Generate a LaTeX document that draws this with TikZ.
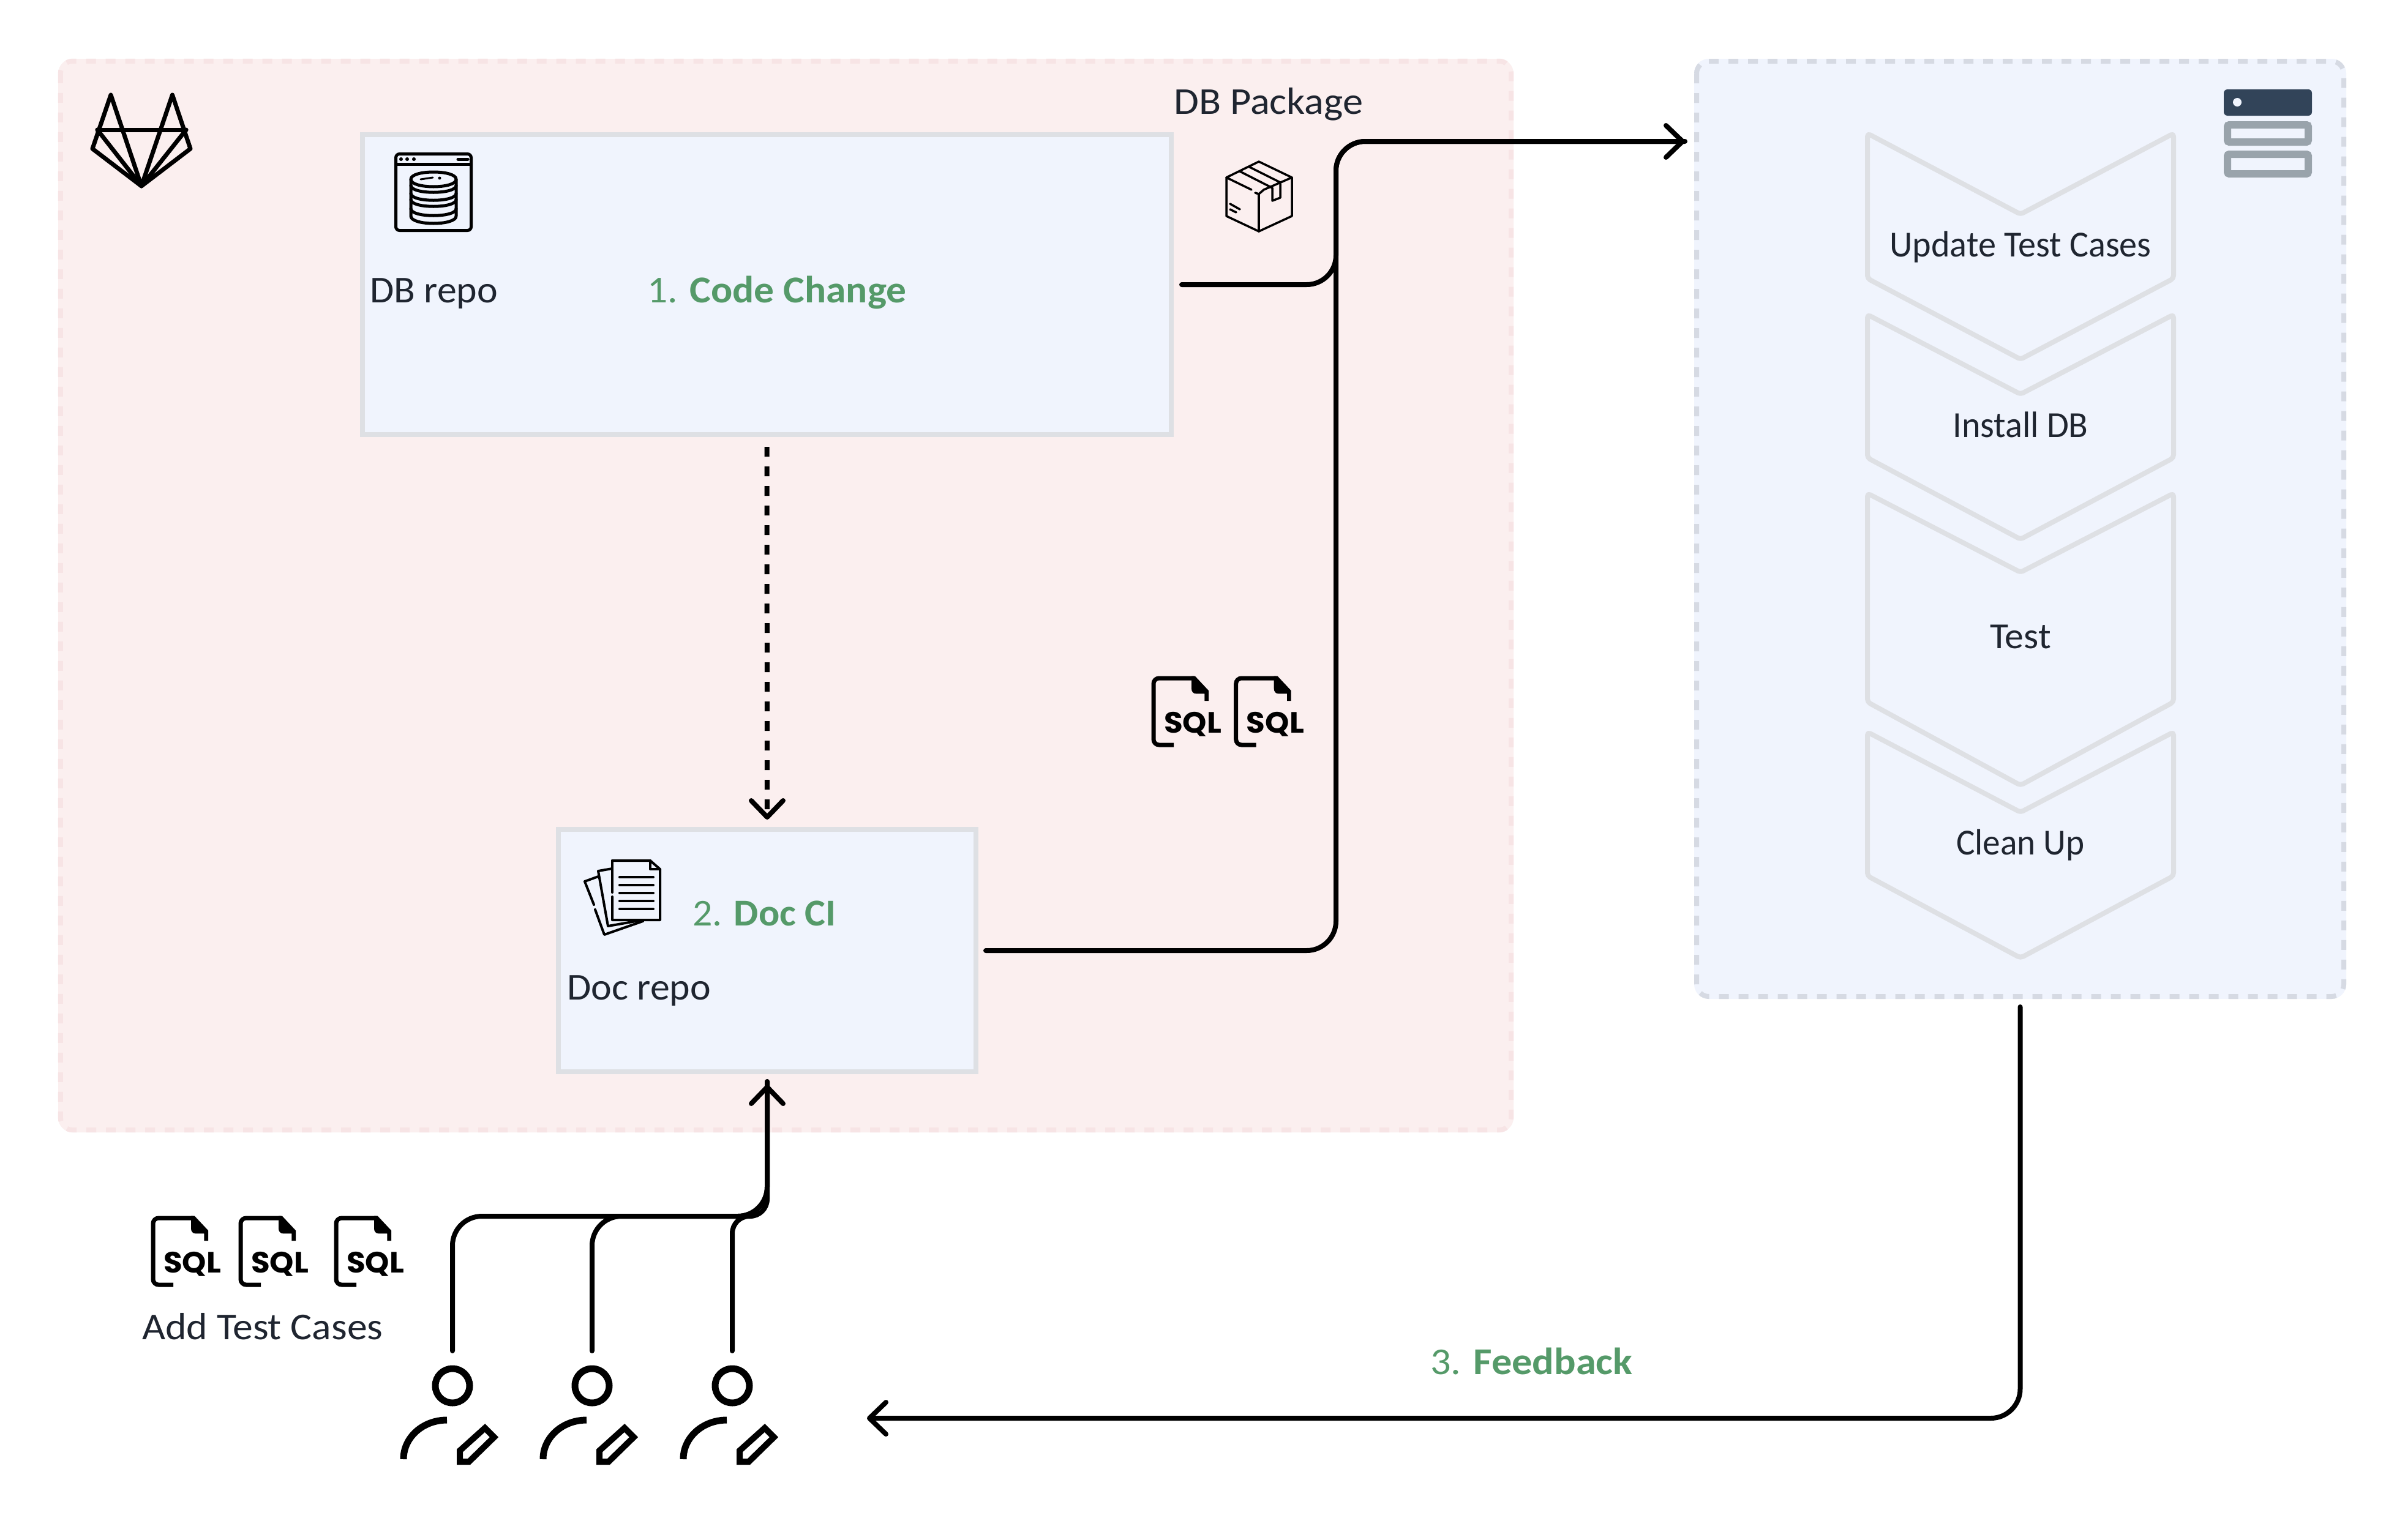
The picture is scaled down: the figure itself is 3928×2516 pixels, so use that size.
\documentclass[tikz,border=0pt]{standalone}
\usepackage{fontspec}
\usepackage{graphicx}
\setmainfont{Carlito}
\newfontfamily\sqlfont{Poppins}
\usetikzlibrary{arrows.meta,calc}
\definecolor{pinkfill}{HTML}{FBEFEF}
\definecolor{pinkdash}{HTML}{F7E4E5}
\definecolor{bluefill}{HTML}{F0F4FD}
\definecolor{bluedash}{HTML}{D6DAE3}
\definecolor{boxedge}{HTML}{DEE0E4}
\definecolor{ink}{HTML}{1F2530}
\definecolor{stepgreen}{HTML}{559A69}
\definecolor{srvdark}{HTML}{324459}
\definecolor{srvgray}{HTML}{99A3AB}
\tikzset{
  x=1pt,y=-1pt,
  zone/.style={rectangle,rounded corners=24pt,inner sep=0pt,draw=none},
  zonedash/.style={line width=8pt,dash pattern=on 16pt off 16pt,rounded corners=20pt},
  repobox/.style={rectangle,draw=boxedge,fill=bluefill,line width=8pt,inner sep=0pt},
  txt/.style={anchor=base west,inner sep=0pt,text=ink,font=\fontsize{62}{62}\selectfont},
  steplabel/.style={txt,text=stepgreen},
  chevtxt/.style={anchor=base,inner sep=0pt,text=ink,font=\fontsize{60}{60}\selectfont},
  chevron/.style={draw=boxedge,fill=bluefill,line width=8pt,rounded corners=5pt,line join=round},
  conn/.style={draw=black,line width=8pt,rounded corners=48pt,line cap=round,
    -{Straight Barb[length=27pt,width=52pt,line width=8pt,round]}},
  connplain/.style={draw=black,line width=8pt,rounded corners=48pt,line cap=round},
  ico/.style={draw=black,line width=5pt,line join=round,line cap=round},
  head/.style={circle,draw=black,line width=11pt,minimum size=56pt,inner sep=0pt,outer sep=29pt},
  sqlfile/.pic={
    \draw[line width=7pt,rounded corners=9pt] (33,109) -- (0,109) -- (0,0) -- (66,0);
    \fill[black] (62,-3.5) -- (67.7,-3.5) -- (90,20.3) -- (90,37) -- (83.3,37) -- (83.3,25.3) -- (69.3,25.3)
       .. controls (65,25.3) and (62,22) .. (62,17) -- cycle;
    \node[anchor=base west,inner sep=0pt,text=black,font=\sqlfont\bfseries\fontsize{49}{49}\selectfont] at (17,89) {\scalebox{1.02}[0.98]{SQL}};
  },
  writer/.pic={
    \draw[black,line width=11pt] (-9,56) .. controls (-48,56) and (-80,84) .. (-80,120);
    \draw[black,line width=10pt,miter limit=10] (53,69) -- (68,84) -- (27,124) -- (12,124) -- (12,106) -- cycle;
  }
}
\begin{document}
\begin{tikzpicture}
\useasboundingbox (0,0) rectangle (3928,2516);
\fill[white] (0,0) rectangle (3928,2516);

% zones
\node[zone,fill=pinkfill,minimum width=2377pt,minimum height=1754pt] (gitlab) at (1283.5,973) {};
\draw[zonedash,draw=pinkdash] ([xshift=4pt,yshift=-4pt]gitlab.north west) rectangle ([xshift=-4pt,yshift=4pt]gitlab.south east);
\node[zone,fill=bluefill,minimum width=1065pt,minimum height=1536pt,outer sep=13pt] (pipeline) at (3299.5,864) {};
\draw[zonedash,draw=bluedash] ([xshift=17pt,yshift=-17pt]pipeline.north west) rectangle ([xshift=-17pt,yshift=17pt]pipeline.south east);

% repo boxes
\node[repobox,minimum width=1321pt,minimum height=490pt,outer sep=17pt] (dbbox) at (1252.5,465) {};
\node[repobox,minimum width=682pt,minimum height=396pt,outer sep=16pt] (docbox) at (1253,1553) {};

% chevrons
\draw[chevron] (3050,218) -- (3300,350) -- (3550,218) -- (3550,455) -- (3300,587) -- (3050,455) -- cycle;
\draw[chevron] (3050,514) -- (3300,644) -- (3550,514) -- (3550,748) -- (3300,881) -- (3050,748) -- cycle;
\draw[chevron] (3050,806) -- (3300,935) -- (3550,806) -- (3550,1147) -- (3300,1283) -- (3050,1147) -- cycle;
\draw[chevron] (3050,1196) -- (3300,1327) -- (3550,1196) -- (3550,1431) -- (3300,1565) -- (3050,1431) -- cycle;
\node[chevtxt] (s1) at (3300,419) {\scalebox{0.97}[1]{Update Test Cases}};
\node[chevtxt] (s2) at (3300,714) {\scalebox{0.97}[1]{Install DB}};
\node[chevtxt] (s3) at (3300,1059) {\scalebox{1.03}[1]{Test}};
\node[chevtxt] (s4) at (3300,1396) {\scalebox{0.955}[1]{Clean Up}};

% labels
\node[txt] (dbl) at (604,494) {\scalebox{1.03}[1]{DB repo}};
\node[steplabel] (l1) at (1057,494) {\scalebox{1.057}[1]{1. \textbf{Code Change}}};
\node[txt] (pkg) at (1917,186) {\scalebox{1.07}[1]{DB Package}};
\node[steplabel] (l2) at (1131,1512) {\scalebox{1.03}[1]{2. \textbf{Doc CI}}};
\node[txt] (docl) at (926,1633) {\scalebox{1.03}[1]{Doc repo}};
\node[txt] (add) at (232,2188) {\scalebox{1.06}[1]{Add Test Cases}};
\node[steplabel] (l3) at (2336,2245) {\scalebox{1.07}[1]{3. \textbf{Feedback}}};

% gitlab logo
\begin{scope}[ico,line width=7pt]
\draw (181,155) -- (151,243) -- (231,304) -- (311,243) -- (281.5,155) -- (231,304) -- (181,155);
\draw (159,212) -- (304,212);
\draw (159,212) -- (231,304) -- (304,212);
\end{scope}

% database window icon
\begin{scope}[ico]
\draw[rounded corners=6pt] (646.5,251.5) rectangle (769.5,376.5);
\draw (646.5,268) -- (769.5,268);
\draw (748,260) -- (764,260);
\fill (655,260) circle (3) (665,260) circle (3) (676,260) circle (3);
\draw (671,293) .. controls (671,277) and (745,277) .. (745,293) .. controls (745,309) and (671,309) .. (671,293);
\draw (671,293) -- (671,353) .. controls (671,369) and (745,369) .. (745,353) -- (745,293);
\foreach \yy in {303,316,326,341} \draw (671,\yy) .. controls (671,\yy+15) and (745,\yy+15) .. (745,\yy);
\draw[line width=3pt] (687,293) -- (707,290);
\fill (718,291) circle (2.5);
\end{scope}

% package icon
\begin{scope}[ico,line width=3.5pt]
\draw (2056,264) -- (2003,290) -- (2003,353) -- (2056,378) -- (2110,353) -- (2110,290) -- cycle;
\draw (2003,290) -- (2044,310);
\draw (2050,315) -- (2056,317) -- (2064,310);
\draw (2064,310) -- (2110,290);
\draw (2056,317) -- (2056,378);
\draw (2025,280) -- (2078,307) (2041,273) -- (2091,298);
\draw (2078,307) -- (2078,328) -- (2091,323) -- (2091,300);
\draw (2009,333) -- (2025,342) (2009,342) -- (2019,347);
\end{scope}

% documents icon
\begin{scope}[ico,line width=4pt]
\draw (1000,1406) -- (1062,1406) -- (1078,1420) -- (1078,1503) -- (1000,1503) -- (1000,1465);
\draw (1000,1458) -- (1000,1406);
\draw (1062,1406) -- (1062,1420) -- (1078,1420);
\foreach \yy in {1433,1446,1459,1472,1485} \draw (1012,\yy) -- (1067,\yy);
\draw (1000,1419) -- (977,1423) -- (993,1513) -- (1050,1503);
\draw (977,1432) -- (955,1440) -- (970,1478);
\draw (972,1486) -- (987,1527) -- (1050,1505);
\end{scope}

% sql icons
\pic at (1884,1108) {sqlfile};
\pic at (2018.7,1108) {sqlfile};
\pic at (250,1990) {sqlfile};
\pic at (393,1990) {sqlfile};
\pic at (549,1990) {sqlfile};

% server icon
\fill[srvdark,rounded corners=6pt] (3632,146) rectangle (3776,189);
\fill[bluefill] (3654,167) circle (7);
\draw[srvgray,line width=12pt,rounded corners=3pt] (3638,204) rectangle (3770,232);
\draw[srvgray,line width=12pt,rounded corners=3pt] (3638,252) rectangle (3770,284);

% writers
\node[head] (u1) at (739,2264) {};
\node[head] (u2) at (967,2264) {};
\node[head] (u3) at (1196,2264) {};
\pic at (739,2264) {writer};
\pic at (967,2264) {writer};
\pic at (1196,2264) {writer};

% routing points
\coordinate (busTop) at (2182,231);
\coordinate (pkgTip) at (2752,231);
\coordinate (merge) at (1253,1987);
\coordinate (usersTip) at (1416,2317);

% connectors
\draw[connplain] (dbbox.east) -| (busTop) -- (pkgTip);
\draw[conn] (docbox.east) -| (busTop) -- (pkgTip);
\draw[conn,rounded corners=0pt,dash pattern=on 16pt off 16pt,line cap=butt,shorten <=3pt] (dbbox.south) -- (docbox.north);
\draw[connplain] (u2.north) |- (merge) -- (docbox.south);
\draw[connplain,rounded corners=28pt] (u3.north) |- (merge) -- (docbox.south);
\draw[conn,shorten >=5pt] (u1.north) |- (merge) -- (docbox.south);
\draw[conn] (pipeline.south) |- (usersTip);
\end{tikzpicture}
\end{document}
